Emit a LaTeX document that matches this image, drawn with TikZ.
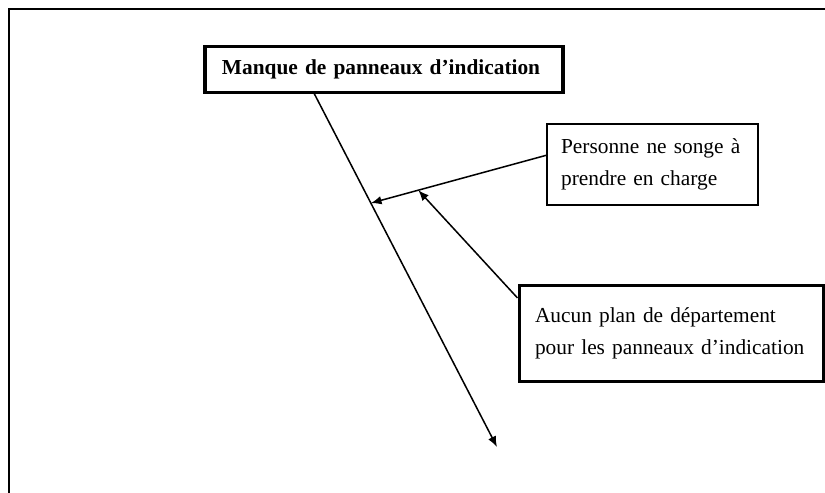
\documentclass[tikz,border=0pt]{standalone}
\usepackage{fontspec}
\setmainfont{Liberation Serif}
\usetikzlibrary{arrows.meta,calc}

\begin{document}
\begin{tikzpicture}[x=0.5617pt,y=-0.5617pt,->,>={Latex[length=6pt,width=4.8pt]},line width=0.85pt,
  base node/.style={draw,rectangle,align=left,inner ysep=3pt,
    font=\fontsize{12}{18}\selectfont},
  title node/.style={base node,line width=1.7pt,font=\fontsize{12}{18}\selectfont\bfseries},
  cause node/.style={base node,line width=0.6pt}]

  \useasboundingbox (0,0) rectangle (825,492);
  % page frame
  \draw[-,line width=0.75pt] (9,500) -- (9,9) -- (830,9);

  \node[title node,minimum width=201.1pt,minimum height=25.3pt,
    inner xsep=9.5pt,text width=182pt] (b1) at (384,69.5)
    {Manque de panneaux d’indication};
  \node[cause node,minimum width=118.5pt,minimum height=45.5pt,
    inner xsep=7.9pt,text width=102.7pt] (b2) at (652.5,164.5)
    {Personne ne songe à\\prendre en charge};
  \node[base node,line width=1.7pt,minimum width=171.3pt,minimum height=53.4pt,
    inner xsep=9pt,text width=153.3pt] (b3) at (671.5,333.5)
    {Aucun plan de département\\pour les panneaux d’indication};

  \coordinate (tail) at (497,447);
  \coordinate (hit) at ($(b1.199)!0.31!(tail)$);
  \coordinate (hit2) at ($(b2.175)!0.73!(hit)$);

  \path (b1.199) edge (tail)
        (b2.175) edge (hit)
        (b3.167) edge (hit2);
\end{tikzpicture}
\end{document}
